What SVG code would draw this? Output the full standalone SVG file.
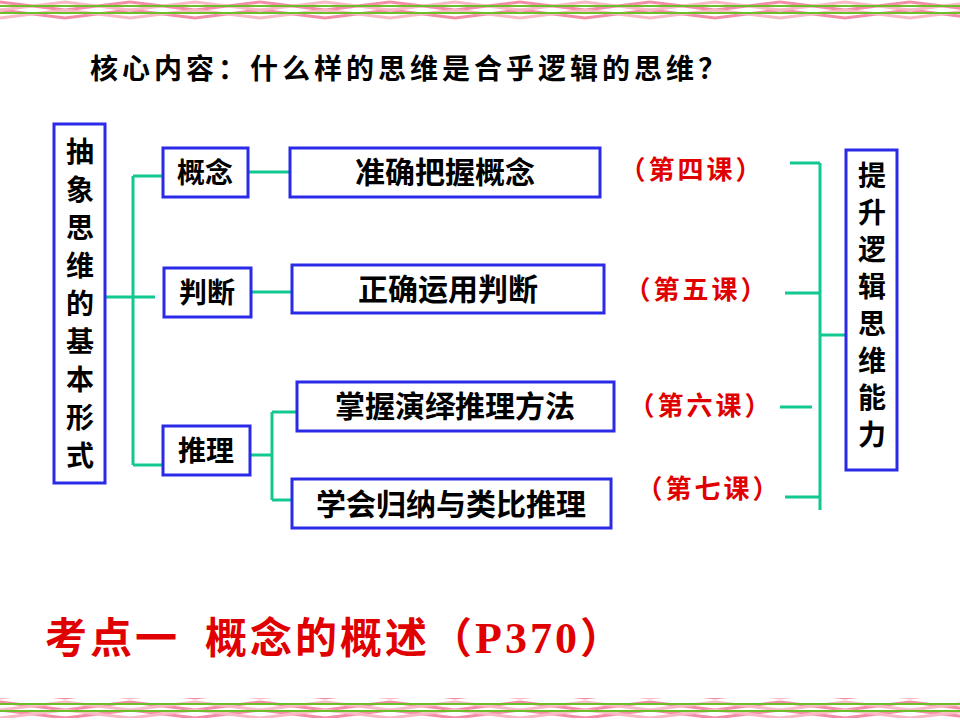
<svg xmlns="http://www.w3.org/2000/svg" width="960" height="720" viewBox="0 0 960 720">
<defs>
<pattern id="zz" x="0" y="0" width="130" height="20" patternUnits="userSpaceOnUse">
<path d="M0,2 L65,10 L130,2 M0,10 L65,18 L130,10" fill="none" stroke="#f07090" stroke-width="3" opacity="0.8"/>
<path d="M0,10 L65,2 L130,10 M0,18 L65,10 L130,18" fill="none" stroke="#f8b8c4" stroke-width="3"/>
</pattern>
<style>
.b{fill:#fff;stroke:#2a2ae8;stroke-width:3}
.t{font-family:"Noto Sans CJK SC","Noto Sans CJK JP",sans-serif;font-weight:bold;fill:#000}
.v{font-family:"Noto Sans CJK SC",sans-serif;font-weight:bold;fill:#000;font-size:28px;text-anchor:middle}
.r{font-family:"Noto Sans CJK SC",serif;font-weight:bold;fill:#e00000;letter-spacing:3px}
.c line{stroke:#10c890;stroke-width:3}
</style>
</defs>
<rect width="960" height="720" fill="#fff"/>
<rect x="0" y="0" width="960" height="20" fill="url(#zz)"/>
<line x1="0" y1="6" x2="960" y2="6" stroke="#6cbf2a" stroke-width="2"/>
<line x1="0" y1="13" x2="960" y2="13" stroke="#6cbf2a" stroke-width="2"/>
<rect x="0" y="698" width="960" height="20" fill="url(#zz)"/>
<line x1="0" y1="704" x2="960" y2="704" stroke="#6cbf2a" stroke-width="2"/>
<line x1="0" y1="711" x2="960" y2="711" stroke="#6cbf2a" stroke-width="2"/>

<text class="t" x="90" y="79" font-size="28" letter-spacing="4">核心内容：什么样的思维是合乎逻辑的思维？</text>

<g class="c">
<line x1="105" y1="297" x2="155" y2="297"/>
<line x1="133" y1="176" x2="133" y2="465"/>
<line x1="133" y1="176" x2="163" y2="176"/>
<line x1="133" y1="465" x2="163" y2="465"/>
<line x1="248" y1="172" x2="290" y2="172"/>
<line x1="251" y1="292" x2="292" y2="292"/>
<line x1="250" y1="455" x2="272" y2="455"/>
<line x1="272" y1="412" x2="272" y2="500"/>
<line x1="272" y1="412" x2="297" y2="412"/>
<line x1="272" y1="500" x2="292" y2="500"/>
<line x1="790" y1="163" x2="820" y2="163"/>
<line x1="785" y1="293" x2="820" y2="293"/>
<line x1="780" y1="407" x2="812" y2="407"/>
<line x1="785" y1="497" x2="820" y2="497"/>
<line x1="820" y1="163" x2="820" y2="510"/>
<line x1="820" y1="335" x2="845" y2="335"/>
</g>

<g id="n-left"><rect class="b" x="54" y="124" width="51" height="359"/>
<text class="v" x="80" y="162">抽</text><text class="v" x="80" y="200">象</text><text class="v" x="80" y="238">思</text><text class="v" x="80" y="276">维</text><text class="v" x="80" y="314">的</text><text class="v" x="80" y="352">基</text><text class="v" x="80" y="390">本</text><text class="v" x="80" y="428">形</text><text class="v" x="80" y="466">式</text></g>
<g id="n-gn"><rect class="b" x="163" y="148" width="85" height="49"/><text class="t" x="205" y="183" font-size="28" text-anchor="middle">概念</text></g>
<g id="n-pd"><rect class="b" x="164" y="268" width="87" height="49"/><text class="t" x="207" y="303" font-size="28" text-anchor="middle">判断</text></g>
<g id="n-tl"><rect class="b" x="163" y="426" width="87" height="49"/><text class="t" x="206" y="461" font-size="28" text-anchor="middle">推理</text></g>
<g id="n-1"><rect class="b" x="290" y="148" width="310" height="49"/><text class="t" x="445" y="183" font-size="30" text-anchor="middle">准确把握概念</text></g>
<g id="n-2"><rect class="b" x="292" y="265" width="312" height="48"/><text class="t" x="448" y="300" font-size="30" text-anchor="middle">正确运用判断</text></g>
<g id="n-3"><rect class="b" x="297" y="382" width="317" height="49"/><text class="t" x="455" y="417" font-size="30" text-anchor="middle">掌握演绎推理方法</text></g>
<g id="n-4"><rect class="b" x="292" y="479" width="319" height="49"/><text class="t" x="451" y="515" font-size="30" text-anchor="middle">学会归纳与类比推理</text></g>
<text class="r" x="692" y="179" font-size="26" text-anchor="middle">（第四课）</text>
<text class="r" x="697" y="299" font-size="26" text-anchor="middle">（第五课）</text>
<text class="r" x="701" y="415" font-size="26" text-anchor="middle">（第六课）</text>
<text class="r" x="709" y="498" font-size="26" text-anchor="middle">（第七课）</text>
<g id="n-right"><rect class="b" x="846" y="150" width="51" height="320"/>
<text class="v" x="872" y="186">提</text><text class="v" x="872" y="223">升</text><text class="v" x="872" y="260">逻</text><text class="v" x="872" y="297">辑</text><text class="v" x="872" y="334">思</text><text class="v" x="872" y="371">维</text><text class="v" x="872" y="408">能</text><text class="v" x="872" y="445">力</text></g>
<text class="r" x="45" y="653" font-size="42" letter-spacing="3" xml:space="preserve">考点一  概念的概述（<tspan font-family="Liberation Serif" font-size="44">P370</tspan>）</text>
</svg>
